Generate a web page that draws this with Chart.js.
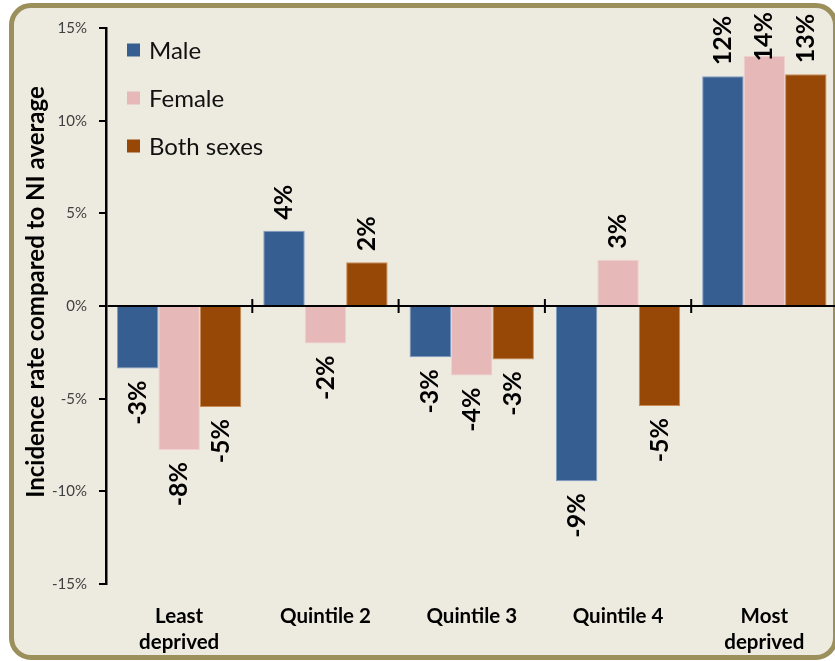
<!DOCTYPE html>
<html>
<head>
<meta charset="utf-8">
<script src="https://cdn.jsdelivr.net/npm/chart.js@4"></script>
<style>
  html, body { margin: 0; padding: 0; width: 835px; height: 661px; overflow: hidden; background: #fff; }
  #frame { position: absolute; left: 9px; top: 3px; width: 819px; height: 647px; border: 5px solid #9b8f5c; border-radius: 22px; background: #edebe0; }
  #chart { position: absolute; left: 0; top: 0; }
</style>
</head>
<body>
<div id="frame"></div>
<canvas id="chart" width="845" height="661"></canvas>
<script>
// values (% difference from NI average)
const categories = [['Least', 'deprived'], 'Quintile 2', 'Quintile 3', 'Quintile 4', ['Most', 'deprived']];
const male = [-3.37, 4.06, -2.76, -9.46, 12.4];
const female = [-7.77, -2.03, -3.75, 2.5, 13.5];
const both = [-5.45, 2.36, -2.88, -5.39, 12.5];
const yTicks = [-15, -10, -5, 0, 5, 10, 15];
const yTitle = 'Incidence rate compared to NI average';

const FONT = 'Lato, "Open Sans", sans-serif';

// labels, category crosses on the zero line, legend and axis title
const extras = {
  id: 'extras',
  afterDatasetsDraw(chart) {
    const ctx = chart.ctx;
    const xs = chart.scales.x, ys = chart.scales.y;
    const area = chart.chartArea;
    const y0 = ys.getPixelForValue(0);

    // crosses between categories
    ctx.save();
    ctx.strokeStyle = '#000';
    ctx.lineWidth = 2;
    for (let i = 1; i < categories.length; i++) {
      const x = (xs.getPixelForValue(i - 1) + xs.getPixelForValue(i)) / 2;
      ctx.beginPath();
      ctx.moveTo(x, y0 - 7);
      ctx.lineTo(x, y0 + 7);
      ctx.stroke();
    }
    ctx.restore();

    // rotated value labels
    ctx.save();
    ctx.font = 'bold 25px ' + FONT;
    ctx.fillStyle = '#000';
    ctx.textBaseline = 'middle';
    chart.data.datasets.forEach((ds, di) => {
      const meta = chart.getDatasetMeta(di);
      meta.data.forEach((bar, i) => {
        const v = ds.data[i];
        const txt = Math.round(v) + '%';
        const w = ctx.measureText(txt).width;
        ctx.save();
        if (v >= 0) {
          let a = bar.y - 11;
          if (a - w < 12) a = 12 + w;
          ctx.translate(bar.x, a);
          ctx.rotate(-Math.PI / 2);
          ctx.textAlign = 'left';
        } else {
          ctx.translate(bar.x, bar.y + 12);
          ctx.rotate(-Math.PI / 2);
          ctx.textAlign = 'right';
        }
        ctx.fillText(txt, 0, 0);
        ctx.restore();
      });
    });
    ctx.restore();

    // legend inside plot, top-left
    ctx.save();
    ctx.font = '24px ' + FONT;
    ctx.textBaseline = 'middle';
    ctx.textAlign = 'left';
    chart.data.datasets.forEach((ds, i) => {
      const cy = area.top + 22 + i * 48;
      const lx = area.left + 21;
      ctx.fillStyle = ds.backgroundColor;
      ctx.fillRect(lx, cy - 6.5, 13, 13);
      ctx.fillStyle = '#111';
      ctx.fillText(ds.label, lx + 22, cy + 1);
    });
    ctx.restore();

    // y axis title
    ctx.save();
    ctx.font = 'bold 24px ' + FONT;
    ctx.fillStyle = '#000';
    ctx.textAlign = 'center';
    ctx.textBaseline = 'middle';
    ctx.translate(36, 292);
    ctx.rotate(-Math.PI / 2);
    ctx.fillText(yTitle, 0, 0);
    ctx.restore();
  }
};

new Chart(document.getElementById('chart'), {
  type: 'bar',
  data: {
    labels: categories,
    datasets: [
      { label: 'Male', data: male, backgroundColor: '#365e90', borderColor: '#7f9cc4', borderWidth: 1 },
      { label: 'Female', data: female, backgroundColor: '#e6b8b7', borderColor: '#f0d0cf', borderWidth: 1 },
      { label: 'Both sexes', data: both, backgroundColor: '#974706', borderColor: '#c98a55', borderWidth: 1 }
    ]
  },
  options: {
    responsive: false,
    animation: false,
    layout: { padding: { top: 28, right: 7.5, bottom: 0, left: 0 } },
    datasets: { bar: { categoryPercentage: 0.85, barPercentage: 1.0 } },
    scales: {
      x: {
        grid: { display: false },
        border: { display: false },
        ticks: {
          color: '#000',
          font: { family: FONT, size: 20.5, weight: 'bold', lineHeight: 1.25 },
          padding: 12,
          maxRotation: 0,
          autoSkip: false
        },
        afterFit: (s) => { s.height = 77; }
      },
      y: {
        min: -15,
        max: 15,
        afterBuildTicks: (s) => { s.ticks = yTicks.map(v => ({ value: v })); },
        grid: {
          drawOnChartArea: true,
          color: (c) => (c.tick && c.tick.value === 0 ? '#000' : 'rgba(0,0,0,0)'),
          lineWidth: 2,
          tickLength: 7,
          tickColor: '#000',
          tickWidth: 2
        },
        border: { color: '#000', width: 2.5 },
        ticks: {
          color: '#404040',
          font: { family: FONT, size: 15 },
          padding: 12,
          callback: (v) => v + '%'
        },
        afterFit: (s) => { s.width = 106; }
      }
    },
    plugins: {
      legend: { display: false },
      tooltip: { enabled: false }
    }
  },
  plugins: [extras]
});
</script>
</body>
</html>
